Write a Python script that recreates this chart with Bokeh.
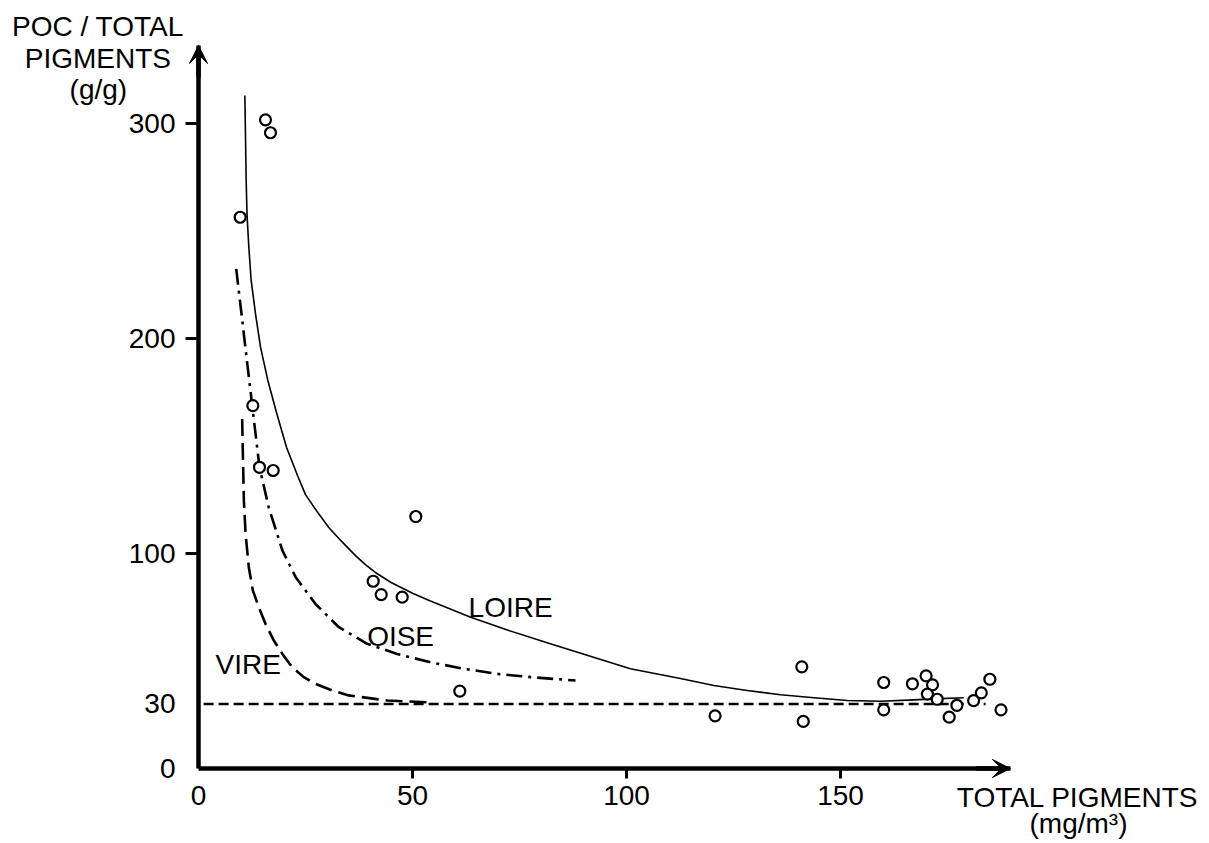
from bokeh.plotting import figure
from bokeh.models import Range1d, FixedTicker, Label, Arrow, VeeHead
from bokeh.embed import file_html
from bokeh.resources import INLINE

# ---- data ----
points_x = [15.65, 16.82, 9.74, 12.69, 14.25, 17.45, 50.77, 40.82, 42.69, 47.59,
            61.05, 120.7, 140.96, 141.3, 160.1, 160.1, 166.8, 170.0, 171.5, 170.3,
            172.6, 175.4, 177.2, 181.1, 182.9, 184.9, 187.5]
points_y = [301.7, 295.7, 256.4, 168.8, 140.1, 138.6, 117.2, 87.1, 80.9, 79.7,
            36.0, 24.5, 47.3, 21.9, 40.0, 27.3, 39.4, 43.1, 38.9, 34.6,
            32.2, 23.9, 29.4, 31.6, 35.2, 41.5, 27.3]

loire_x = [10.83, 11.14, 11.33, 11.76, 12.3, 13.32, 14.49, 16.2, 18.3, 20.56, 23.13,
           25.0, 27.7, 30.44, 33.5, 36.68, 39.0, 41.6, 45.0, 50.0, 54.2, 63.6, 72.0,
           82.2, 100.9, 112.6, 120.4, 128.2, 136.0, 143.8, 151.6, 159.3, 167.1,
           171.8, 178.8]
loire_y = [313.0, 273.5, 257.9, 242.5, 227.0, 211.5, 196.0, 180.5, 165.0, 149.4, 136.3,
           127.4, 119.5, 112.1, 105.5, 99.0, 94.8, 90.8, 86.5, 81.5, 77.9, 70.4, 64.5,
           58.0, 46.4, 41.9, 38.6, 36.3, 34.3, 32.9, 31.6, 31.3, 31.9,
           32.4, 32.9]

oise_x = [8.81, 10.12, 11.40, 12.55, 14.25, 16.4, 19.6, 22.7, 27.3, 32.8, 39.4, 46.4,
          54.2, 62.0, 69.8, 77.6, 88.1]
oise_y = [232.4, 210.2, 188.2, 168.8, 140.1, 121.5, 101.4, 89.0, 76.6, 65.7, 58.0, 53.3,
          49.4, 46.4, 44.0, 42.5, 40.9]

vire_x = [10.2, 10.35, 10.6, 11.0, 11.75, 12.7, 14.1, 15.65, 17.6, 19.6, 21.9, 24.6,
          27.3, 31.2, 35.1, 44.1, 53.4]
vire_y = [162.6, 147.9, 124.7, 109.2, 93.6, 82.8, 75.0, 67.3, 59.5, 53.3, 47.1, 42.5,
          39.4, 36.3, 34.0, 31.6, 30.8]

ref_x = [1.2, 183.9]
ref_y = [30, 30]

x_ticks = [0, 50, 100, 150]
x_tick_marks = [50, 100, 150]
y_ticks = [0, 30, 100, 200, 300]
y_tick_marks = [100, 200, 300]

X_AXIS_END = 189.7
Y_AXIS_END = 336.3

FONT = "Liberation Sans"
FS = "28px"

p = figure(width=1209, height=843,
           x_range=Range1d(-46.262, 236.215), y_range=Range1d(-34.884, 357.209),
           output_backend="svg", toolbar_location=None, min_border=0)
p.outline_line_color = None
p.grid.visible = False
p.background_fill_color = "white"
p.border_fill_color = "white"

for ax, ticks, marks, out, standoff, bnds in (
        (p.xaxis[0], x_ticks, x_tick_marks, 10, 8, (0, X_AXIS_END)),
        (p.yaxis[0], y_ticks, y_tick_marks, 13, 10, (0, Y_AXIS_END))):
    ax.fixed_location = 0
    ax.bounds = bnds
    ax.ticker = FixedTicker(ticks=ticks, minor_ticks=marks)
    ax.axis_line_width = 4.5
    ax.axis_line_color = "black"
    ax.major_tick_out = 0
    ax.major_tick_in = 0
    ax.minor_tick_out = out
    ax.minor_tick_in = 0
    ax.minor_tick_line_width = 3
    ax.minor_tick_line_color = "black"
    ax.major_label_text_font = FONT
    ax.major_label_text_font_size = FS
    ax.major_label_text_color = "black"
    ax.major_label_standoff = standoff

# reference line (30)
p.line(ref_x, ref_y, line_color="black", line_width=2.3, line_dash="10 5")
# curves
p.line(loire_x, loire_y, line_color="black", line_width=1.6, line_join="round")
p.line(oise_x, oise_y, line_color="black", line_width=2.6, line_dash="16 6 3 6",
       line_join="round")
p.line(vire_x, vire_y, line_color="black", line_width=2.6, line_dash="17 7",
       line_join="round")
# points
p.scatter(points_x, points_y, marker="circle", size=11, fill_color="white",
          line_color="black", line_width=2.2)

# axis arrows
p.add_layout(Arrow(end=VeeHead(size=18, fill_color="black", line_color="black", line_width=1),
                   x_start=0, y_start=Y_AXIS_END - 15, x_end=0, y_end=Y_AXIS_END,
                   line_width=4.5, line_color="black"))
p.add_layout(Arrow(end=VeeHead(size=18, fill_color="black", line_color="black", line_width=1),
                   x_start=X_AXIS_END - 8, y_start=0, x_end=X_AXIS_END, y_end=0,
                   line_width=4.5, line_color="black"))

def lab(x, y, t, align="left"):
    p.add_layout(Label(x=x, y=y, text=t, text_font=FONT, text_font_size=FS,
                       text_color="black", text_align=align,
                       text_baseline="alphabetic"))

lab(-23.5, 344.9, "POC / TOTAL", "center")
lab(-23.5, 330.0, "PIGMENTS", "center")
lab(-23.4, 315.6, "(g/g)", "center")
lab(205.4, -13.7, "TOTAL PIGMENTS", "center")
lab(205.6, -25.8, "(mg/m³)", "center")
lab(63.1, 75.1, "LOIRE")
lab(39.4, 61.5, "OISE")
lab(4.0, 48.6, "VIRE")

open("out.html", "w").write(file_html(p, INLINE))
